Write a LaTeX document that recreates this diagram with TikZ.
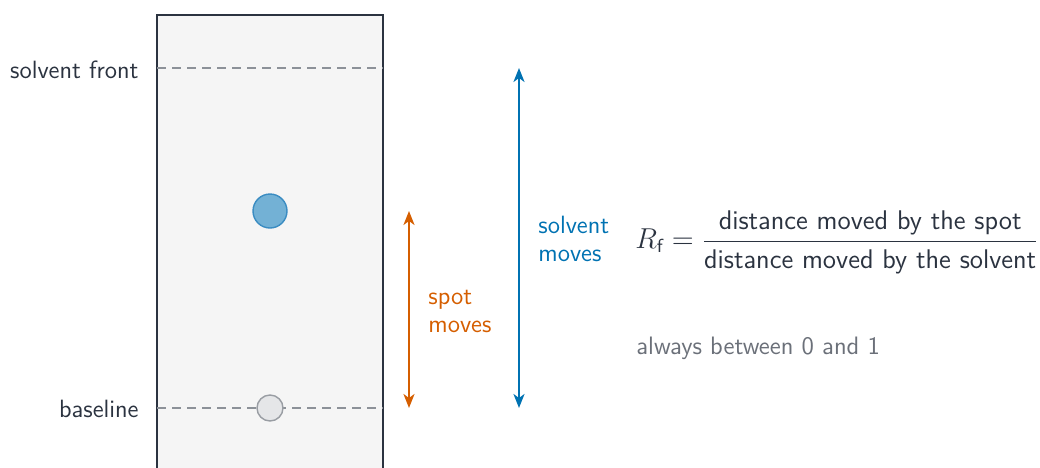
\documentclass[tikz,border=0pt]{standalone}
\usepackage{amsmath}
\usetikzlibrary{arrows.meta}
\definecolor{ink}{HTML}{2B3340}
\definecolor{plate}{HTML}{F5F5F5}
\definecolor{dashc}{HTML}{8C9198}
\definecolor{cblue}{HTML}{0072B2}
\definecolor{spotfill}{HTML}{73B1D5}
\definecolor{spotline}{HTML}{3A8CC2}
\definecolor{corange}{HTML}{D55E00}
\definecolor{ghostfill}{HTML}{E5E6E8}
\definecolor{ghostline}{HTML}{999DA3}
\definecolor{note}{HTML}{6B7079}
\tikzset{
  lab/.style={font=\sffamily\fontsize{12.5}{14}\selectfont, text=ink, inner sep=0pt},
  guide/.style={draw=dashc, line width=0.7pt, dash pattern=on 4.5pt off 3pt},
  dimarrow/.style={line width=1pt, {Stealth[length=7pt,width=5.5pt,inset=2pt]}-{Stealth[length=7pt,width=5.5pt,inset=2pt]}},
  spotdot/.style={circle, fill=spotfill, draw=spotline, line width=0.7pt, minimum size=17pt, inner sep=0pt},
  ghostdot/.style={circle, fill=ghostfill, draw=ghostline, line width=0.7pt, minimum size=13pt, inner sep=0pt},
}
\begin{document}
\begin{tikzpicture}[x=0.5pt,y=-0.5pt]
\useasboundingbox (0,0) rectangle (1040,467);
\clip (0,0) rectangle (1040,467);
% plate
\draw[fill=plate, draw=ink, line width=1.1pt] (157,15) rectangle (383,480);
% reference coordinates
\coordinate (fl) at (157,68);
\coordinate (fr) at (383,68);
\coordinate (bl) at (157,408);
\coordinate (br) at (383,408);
\draw[guide] (fl) -- (fr);
\draw[guide] (bl) -- (br);
\node[lab, anchor=east] (front) at (139,70) {solvent front};
\node[lab, anchor=east] (base) at (139,409) {baseline};
% spots
\node[ghostdot] (origin) at (270,408) {};
\node[spotdot] (spot) at (270,211) {};
% arrows
\coordinate (ot) at (409,211);
\coordinate (ob) at (409,408);
\coordinate (bt) at (519,68);
\coordinate (bb) at (519,408);
\draw[dimarrow, draw=corange, color=corange] (ot) -- (ob);
\draw[dimarrow, draw=cblue, color=cblue] (bt) -- (bb);
\node[lab, text=corange, anchor=west, align=left] (spotlab) at (428,311) {spot\\moves};
\node[lab, text=cblue, anchor=west, align=left] (solvlab) at (538,239) {solvent\\moves};
% formula
\node[lab, anchor=west, font=\sffamily\fontsize{13.5}{16}\selectfont] (rf) at (635,242)
  {$R_{\textsf{f}} = \dfrac{\textsf{distance moved by the spot}}{\textsf{distance moved by the solvent}}$};
\node[lab, text=note, anchor=west, font=\sffamily\fontsize{12.6}{14}\selectfont] (range) at (636,348) {always between 0 and 1};
\end{tikzpicture}
\end{document}
